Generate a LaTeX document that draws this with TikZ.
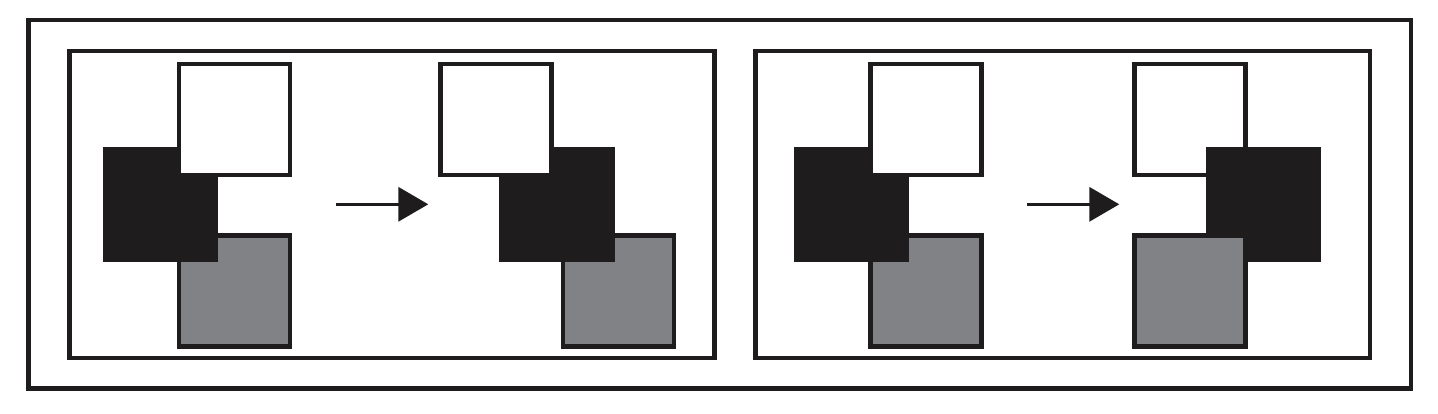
\documentclass[tikz,border=0pt]{standalone}
\usetikzlibrary{arrows.meta}
\definecolor{ink}{HTML}{1E1C1D}
\definecolor{midgray}{HTML}{818286}
\begin{document}
\begin{tikzpicture}[x=1pt,y=-1pt,
  frame/.style={draw=ink,line width=4.3pt},
  sq/.style={rectangle,inner sep=0pt,outer sep=0pt,minimum size=111pt,draw=ink,line width=4.3pt},
  wsq/.style={sq,fill=white},
  gsq/.style={sq,fill=midgray},
  bsq/.style={rectangle,inner sep=0pt,outer sep=0pt,minimum size=115.3pt,fill=ink},
  arr/.style={draw=ink,line width=3.5pt,-{Triangle[length=30pt,width=34pt]}}]
\useasboundingbox (0,0) rectangle (1438,413);
% frames
\draw[frame] (28.5,20.3) rectangle (1411,388.5);
\draw[frame] (69.5,51) rectangle (714.5,358);
\draw[frame] (755.5,51) rectangle (1370,358);
% left panel, config 1
\node[gsq] (g1) at (234.3,291) {};
\node[bsq] (b1) at (160.7,204.3) {};
\node[wsq] (w1) at (234.3,119.2) {};
% left panel, config 2
\node[gsq] (g2) at (618.6,291) {};
\node[bsq] (b2) at (557,204.3) {};
\node[wsq] (w2) at (496,119.3) {};
% right panel, config 1
\node[gsq] (g3) at (926,291) {};
\node[bsq] (b3) at (851.7,204.3) {};
\node[wsq] (w3) at (926,119.3) {};
% right panel, config 2
\node[wsq] (w4) at (1190,119.3) {};
\node[bsq] (b4) at (1263.7,204.3) {};
\node[gsq] (g4) at (1190,291) {};
% arrows
\coordinate (a1s) at (335.7,204.3);
\coordinate (a1e) at (428.3,204.3);
\coordinate (a2s) at (1026.7,204.3);
\coordinate (a2e) at (1119.3,204.3);
\draw[arr] (a1s) -- (a1e);
\draw[arr] (a2s) -- (a2e);
\end{tikzpicture}
\end{document}
